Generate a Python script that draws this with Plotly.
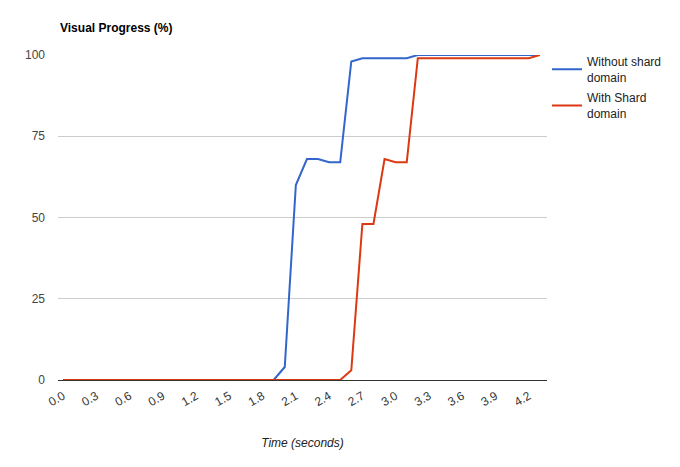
import plotly.graph_objects as go

# time in seconds, sampled every 0.1 s
times = [0.0, 0.1, 0.2, 0.3, 0.4, 0.5, 0.6, 0.7, 0.8, 0.9,
         1.0, 1.1, 1.2, 1.3, 1.4, 1.5, 1.6, 1.7, 1.8, 1.9,
         2.0, 2.1, 2.2, 2.3, 2.4, 2.5, 2.6, 2.7, 2.8, 2.9,
         3.0, 3.1, 3.2, 3.3, 3.4, 3.5, 3.6, 3.7, 3.8, 3.9,
         4.0, 4.1, 4.2, 4.3]

without_shard = [0, 0, 0, 0, 0, 0, 0, 0, 0, 0,
                 0, 0, 0, 0, 0, 0, 0, 0, 0, 0,
                 4, 60, 68, 68, 67, 67, 98, 99, 99, 99,
                 99, 99, 100, 100, 100, 100, 100, 100, 100, 100,
                 100, 100, 100, 100]

with_shard = [0, 0, 0, 0, 0, 0, 0, 0, 0, 0,
              0, 0, 0, 0, 0, 0, 0, 0, 0, 0,
              0, 0, 0, 0, 0, 0, 3, 48, 48, 68,
              67, 67, 99, 99, 99, 99, 99, 99, 99, 99,
              99, 99, 99, 100]

x_ticks = [0.0, 0.3, 0.6, 0.9, 1.2, 1.5, 1.8, 2.1, 2.4, 2.7, 3.0, 3.3, 3.6, 3.9, 4.2]
y_ticks = [0, 25, 50, 75, 100]

font = "Arial, Liberation Sans, sans-serif"

fig = go.Figure()
fig.add_trace(go.Scatter(
    x=times, y=without_shard, mode="lines",
    name="Without shard<br>domain", legendgroup="a",
    line=dict(color="#3366cc", width=2),
    cliponaxis=False,
))
fig.add_trace(go.Scatter(
    x=times, y=with_shard, mode="lines",
    name="With Shard<br>domain", legendgroup="b",
    line=dict(color="#dc3912", width=2),
    cliponaxis=False,
))

# the page body adds an 8px offset, so margins are shifted accordingly
fig.update_layout(
    width=680, height=467,
    margin=dict(l=50, r=141, t=47, b=95, autoexpand=False),
    paper_bgcolor="white", plot_bgcolor="white",
    font=dict(family=font, size=12, color="#444"),
    showlegend=True,
    legend=dict(
        x=1.0, y=1.024, xanchor="left", yanchor="top",
        xref="paper", yref="paper",
        font=dict(size=12, color="#222"),
        itemwidth=30, traceorder="grouped", tracegroupgap=2,
    ),
    annotations=[
        dict(text="<b>Visual Progress (%)</b>", xref="paper", yref="paper",
             x=0, y=1, yshift=27, xanchor="left", yanchor="middle",
             showarrow=False, font=dict(size=12, color="#000")),
    ],
)

fig.update_xaxes(
    range=[-0.045, 4.365], automargin=False,
    tickvals=x_ticks, tickformat=".1f", tickangle=-30,
    showgrid=False, zeroline=False, showline=False,
    ticks="", ticklabelstandoff=6, tickfont=dict(size=12, color="#333"),
    title=dict(text="<i>Time (seconds)</i>", font=dict(size=12, color="#222"), standoff=30),
)
fig.update_yaxes(
    range=[0, 100], automargin=False,
    tickvals=y_ticks,
    showgrid=True, gridcolor="#cccccc", gridwidth=1,
    zeroline=True, zerolinecolor="#333333", zerolinewidth=1,
    showline=False, ticks="", ticklabelstandoff=12,
    tickfont=dict(size=12, color="#444"),
)

fig.write_html("out.html")
